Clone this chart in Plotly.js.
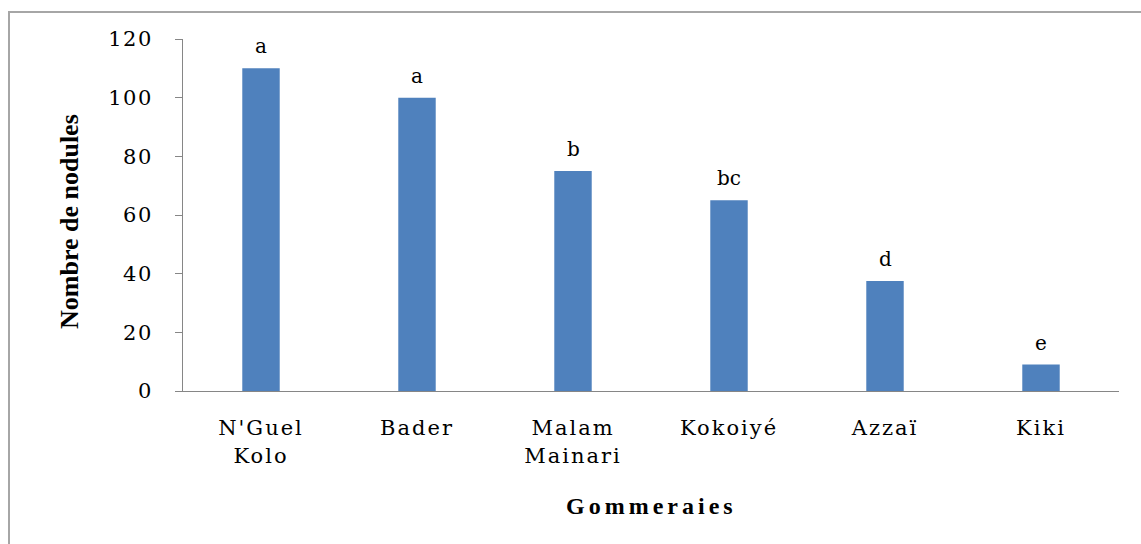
<!DOCTYPE html>
<html>
<head>
<meta charset="utf-8">
<script src="https://cdn.plot.ly/plotly-3.0.1.min.js"></script>
<style>
  html, body { margin: 0; padding: 0; background: #fff; }
  #frame { position: absolute; left: 8px; top: 11px; width: 1200px; height: 600px;
           border-top: 2px solid #a6a6a6; border-left: 2px solid #a6a6a6; pointer-events: none; }
  #chart { position: absolute; left: 0; top: 0; width: 1141px; height: 544px; }
  #chart .xtick text { letter-spacing: 2px; }
  #chart .ytick text { letter-spacing: 1.5px; }
  #chart .annotation[data-index="7"] text { letter-spacing: 4px; }
</style>
</head>
<body>
<div id="chart"></div>
<div id="frame"></div>
<script>
const categories = ["N'Guel<br>Kolo", "Bader", "Malam<br>Mainari", "Kokoiyé", "Azzaï", "Kiki"];
const values = [110, 100, 75, 65, 37.5, 9];
const groups = ["a", "a", "b", "bc", "d", "e"];
const yTicks = [0, 20, 40, 60, 80, 100, 120];

const serif = "DejaVu Serif, Liberation Serif, serif";

const trace = {
  type: 'bar',
  x: categories,
  y: values,
  marker: { color: '#4F81BD' },
  hoverinfo: 'none'
};

const annotations = categories.map((c, i) => ({
  x: c, y: values[i], xref: 'x', yref: 'y',
  text: groups[i], showarrow: false, yshift: 22,
  font: { family: serif, size: 20, color: '#000' }
}));

annotations.push({
  xref: 'paper', yref: 'paper', x: (69 - 183) / 936, y: (391 - 222) / 352,
  text: 'Nombre de nodules', textangle: -90, showarrow: false,
  xanchor: 'center', yanchor: 'middle',
  font: { family: 'Liberation Serif, serif', size: 26, color: '#000', weight: 'bold' }
});
annotations.push({
  xref: 'paper', yref: 'paper', x: 0.5, y: (391 - 506) / 352,
  text: 'Gommeraies', showarrow: false,
  xanchor: 'center', yanchor: 'middle',
  font: { family: 'Liberation Serif, serif', size: 24, color: '#000', weight: 'bold' }
});

const layout = {
  width: 1141, height: 544,
  margin: { l: 183, r: 22, t: 39, b: 153 },
  paper_bgcolor: '#fff', plot_bgcolor: '#fff',
  showlegend: false,
  bargap: 0.76,
  xaxis: {
    showline: true, linecolor: '#868686', linewidth: 1,
    ticks: '', showgrid: false, zeroline: false,
    tickfont: { family: serif, size: 21, color: '#000' },
    ticklabelstandoff: 18, fixedrange: true
  },
  yaxis: {
    range: [0, 120], tickvals: yTicks, ticktext: yTicks.map(String),
    showline: true, linecolor: '#868686', linewidth: 1,
    ticks: 'outside', ticklen: 7, tickcolor: '#868686',
    showgrid: false, zeroline: false,
    tickfont: { family: serif, size: 21, color: '#000' },
    ticklabelstandoff: 18, fixedrange: true
  },
  annotations: annotations
};

Plotly.newPlot('chart', [trace], layout, { displayModeBar: false, staticPlot: true });
</script>
</body>
</html>
